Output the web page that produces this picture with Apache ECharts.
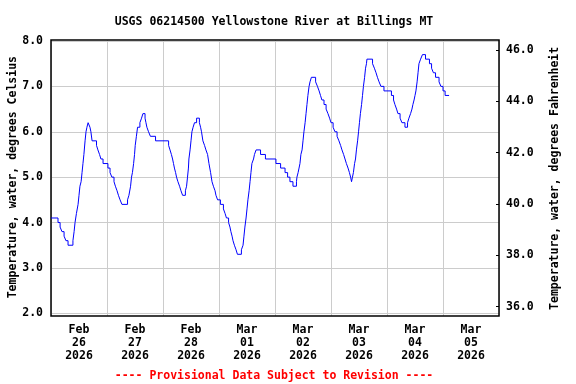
<!DOCTYPE html>
<html>
<head>
<meta charset="utf-8">
<script src="https://cdn.jsdelivr.net/npm/echarts@6/dist/echarts.min.js"></script>
<style>html,body{margin:0;padding:0;background:#fff}#c{width:576px;height:384px}</style>
</head>
<body>
<div id="c"></div>
<script>
const chartTitle = 'USGS 06214500 Yellowstone River at Billings MT';
const footerText = '---- Provisional Data Subject to Revision ----';
const leftName = 'Temperature, water, degrees Celsius';
const rightName = 'Temperature, water, degrees Fahrenheit';
const dayLabels = ['Feb\n26\n2026','Feb\n27\n2026','Feb\n28\n2026','Mar\n01\n2026','Mar\n02\n2026','Mar\n03\n2026','Mar\n04\n2026','Mar\n05\n2026'];
// hours since 2026-02-26 00:00
const hours = [0,3.0,3.9,4.7,5.6,6.4,7.3,9.4,9.9,10.3,10.9,11.6,12.0,12.4,12.9,13.3,13.7,14.1,14.6,15.0,15.4,15.9,16.7,17.1,17.6,19.5,20.1,20.8,21.4,22.3,24.4,25.3,26.1,27.0,27.6,28.3,28.9,29.6,30.4,32.8,33.4,34.1,34.5,34.9,35.4,35.8,36.1,36.6,37.1,38.1,38.8,39.4,40.3,40.7,41.1,41.8,42.6,44.8,50.4,51.0,51.6,52.1,52.5,52.9,53.4,53.8,54.4,55.1,55.7,56.4,57.6,58.1,58.5,58.9,59.1,59.6,60.0,60.4,60.9,61.5,62.4,63.6,64.1,64.5,65.1,65.8,66.4,67.1,67.7,68.4,69.0,69.6,70.3,70.7,71.4,72.6,73.9,74.6,75.2,76.1,76.7,77.1,77.6,78.0,78.6,79.3,79.9,81.6,82.3,82.7,83.1,83.6,84.0,84.4,84.9,85.3,85.7,86.1,86.8,87.2,87.9,89.8,91.9,96.4,98.4,100.3,101.4,102.4,103.7,105.2,105.4,105.9,106.3,106.7,107.1,107.6,108.0,108.4,108.9,109.3,109.7,110.1,110.6,111.0,111.6,113.4,114.2,114.9,115.5,116.1,117.0,117.9,118.7,119.4,120.0,120.9,121.7,122.6,123.4,124.1,124.7,125.4,126.0,126.6,127.3,127.9,128.4,128.8,129.2,129.6,130.1,130.5,130.9,131.4,131.8,132.2,132.6,133.1,133.5,133.9,134.4,134.8,135.2,135.4,137.8,138.6,139.3,139.9,140.6,141.4,142.7,145.9,146.8,147.4,148.1,148.7,149.6,150.4,151.7,152.8,153.4,154.1,154.7,155.1,155.6,156.0,156.4,156.9,157.3,157.7,158.4,159.2,160.5,162.2,163.1,163.9,164.8,166.3,167.1,168.0,168.9,170.6];
const tempC = [4.1,4.0,3.9,3.8,3.7,3.6,3.5,3.6,3.8,4.0,4.2,4.4,4.6,4.8,4.9,5.1,5.3,5.5,5.8,6.0,6.1,6.2,6.1,6.0,5.8,5.7,5.6,5.5,5.4,5.3,5.2,5.1,5.0,4.9,4.8,4.7,4.6,4.5,4.4,4.5,4.6,4.8,5.0,5.1,5.3,5.5,5.7,5.9,6.1,6.2,6.3,6.4,6.3,6.2,6.1,6.0,5.9,5.8,5.7,5.6,5.5,5.4,5.3,5.2,5.1,5.0,4.9,4.8,4.7,4.6,4.7,4.8,5.0,5.2,5.4,5.6,5.8,6.0,6.1,6.2,6.3,6.2,6.1,6.0,5.8,5.7,5.6,5.5,5.3,5.1,4.9,4.8,4.7,4.6,4.5,4.4,4.3,4.2,4.1,4.0,3.9,3.8,3.7,3.6,3.5,3.4,3.3,3.4,3.5,3.7,3.9,4.1,4.3,4.5,4.7,4.9,5.1,5.3,5.4,5.5,5.6,5.5,5.4,5.3,5.2,5.1,5.0,4.9,4.8,4.9,5.0,5.1,5.2,5.3,5.5,5.6,5.8,6.0,6.2,6.4,6.6,6.8,7.0,7.1,7.2,7.1,7.0,6.9,6.8,6.7,6.6,6.5,6.4,6.3,6.2,6.1,6.0,5.9,5.8,5.7,5.6,5.5,5.4,5.3,5.2,5.1,5.0,4.9,5.0,5.1,5.3,5.4,5.6,5.8,6.0,6.2,6.4,6.6,6.8,7.0,7.2,7.4,7.5,7.6,7.5,7.4,7.3,7.2,7.1,7.0,6.9,6.8,6.7,6.6,6.5,6.4,6.3,6.2,6.1,6.2,6.3,6.4,6.5,6.6,6.7,6.8,6.9,7.1,7.3,7.5,7.6,7.7,7.6,7.5,7.4,7.3,7.2,7.1,7.0,6.9,6.8,6.8];
const cMin = 2, cMax = 8, cStep = 1;
const fMin = 36, fMax = 46, fStep = 2;
const hourMin = 0, hourMax = 192;

const FONT = '"DejaVu Sans Mono", "Liberation Mono", monospace';
const txt = {fontFamily: FONT, fontWeight: 'bold', fontSize: 11.5, color: '#000'};

const chart = echarts.init(document.getElementById('c'), null, {renderer: 'canvas'});
chart.setOption({
  animation: false,
  backgroundColor: '#fff',
  title: [
    {text: chartTitle, left: 269, top: 11, textAlign: 'center', textStyle: Object.assign({}, txt)},
    {text: footerText, left: 269, top: 365, textAlign: 'center', textStyle: Object.assign({}, txt, {color: '#ff0000'})}
  ],
  grid: [
    {left: 51, right: 77, top: 41, bottom: 70.7, show: false, containLabel: false, outerBoundsMode: 'none'},
    {left: 51, right: 77, top: 50, bottom: 77.3, show: false, containLabel: false, outerBoundsMode: 'none'},
    {left: 51, right: 77, top: 40, bottom: 68, show: true, borderColor: '#000', borderWidth: 1.5, backgroundColor: 'transparent', z: 5, containLabel: false, outerBoundsMode: 'none'}
  ],
  xAxis: [
    {type: 'value', gridIndex: 0, min: hourMin, max: hourMax, show: false, axisLine: {onZero: false}},
    {type: 'category', gridIndex: 2, data: dayLabels, boundaryGap: true, position: 'bottom',
     axisLine: {show: false, onZero: false}, axisTick: {show: false},
     splitLine: {show: true, lineStyle: {color: '#cccccc', width: 1}},
     axisLabel: Object.assign({}, txt, {margin: 8, lineHeight: 13, interval: 0})},
    {type: 'value', gridIndex: 1, min: 0, max: 1, show: false, axisLine: {onZero: false}}
  ],
  yAxis: [
    {type: 'value', gridIndex: 0, min: cMin, max: cMax, interval: cStep, position: 'left',
     name: leftName, nameLocation: 'middle', nameRotate: 90, nameGap: 32, nameMoveOverlap: false,
     nameTextStyle: Object.assign({}, txt),
     axisLine: {show: false, onZero: false}, axisTick: {show: false},
     splitLine: {show: true, lineStyle: {color: '#cccccc', width: 1}},
     axisLabel: Object.assign({}, txt, {margin: 8, formatter: v => v.toFixed(1)})},
    {type: 'value', gridIndex: 1, min: fMin, max: fMax, interval: fStep, position: 'right',
     name: rightName, nameLocation: 'middle', nameRotate: 90, nameGap: 50, nameMoveOverlap: false,
     nameTextStyle: Object.assign({}, txt),
     axisLine: {show: false, onZero: false}, axisTick: {show: true, inside: true, length: 3, lineStyle: {color: '#000', width: 1}},
     splitLine: {show: false},
     axisLabel: Object.assign({}, txt, {margin: 7, formatter: v => v.toFixed(1)})},
    {type: 'value', gridIndex: 2, min: 0, max: 1, show: false, axisLine: {onZero: false}}
  ],
  series: [{
    type: 'line', xAxisIndex: 0, yAxisIndex: 0, step: 'end', showSymbol: false,
    lineStyle: {color: '#0000ff', width: 1}, z: 6,
    data: hours.map((h, i) => [h, tempC[i]])
  }]
});
</script>
</body>
</html>
